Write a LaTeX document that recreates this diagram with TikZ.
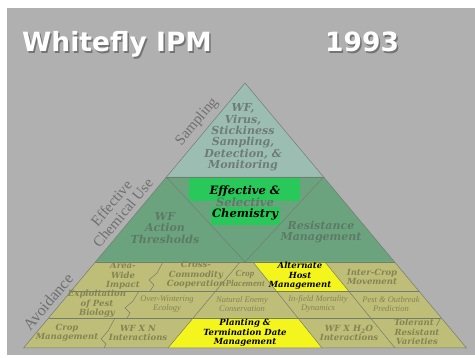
\documentclass[tikz,border=0pt]{standalone}
\usepackage{fontspec}
\setmainfont{Liberation Serif}
\newfontfamily\titlefont{DejaVu Sans}
\newfontfamily\cellfont{DejaVu Serif}
\usepackage{tikz}
\usetikzlibrary{positioning}

\definecolor{slidegray}{RGB}{176,176,176}
\definecolor{tealtop}{RGB}{156,189,178}
\definecolor{greenmid}{RGB}{108,163,127}
\definecolor{olivelow}{RGB}{190,190,120}
\definecolor{hiyellow}{RGB}{245,245,30}
\definecolor{higreen}{RGB}{40,200,90}
\definecolor{sidegray}{RGB}{112,112,112}
\definecolor{tealtext}{RGB}{110,124,119}
\definecolor{greentext}{RGB}{92,122,102}
\definecolor{olivetext}{RGB}{132,132,84}
\definecolor{linegray}{RGB}{115,125,110}

% white title text with a dark drop shadow
\newcommand{\shadowed}[1]{\rlap{\raisebox{-1.5pt}{\hspace{1.5pt}\textcolor{black!55}{#1}}}#1}

\begin{document}
\begin{tikzpicture}[
    x=1pt, y=-1pt,
    title/.style={font=\titlefont\bfseries\fontsize{26.5}{30}\selectfont, text=white, anchor=base west, inner sep=0},
    side/.style={font=\fontsize{15}{15}\selectfont, text=sidegray, rotate=50, align=center, inner sep=0},
    cell/.style={font=\cellfont\bfseries\itshape\fontsize{11}{11.4}\selectfont, align=center, inner sep=0},
    rowcell/.style={cell, font=\cellfont\bfseries\itshape\fontsize{8.5}{9.5}\selectfont, text=olivetext},
    smallcell/.style={font=\itshape\fontsize{8.5}{9}\selectfont, align=center, inner sep=0, text=olivetext},
    band/.style={draw=linegray, line width=0.5pt}
]
    \useasboundingbox (0,0) rectangle (475,358);

    % Slide background
    \fill[white] (0,0) rectangle (475,358);
    \fill[slidegray] (7,8) rectangle (475,355);

    % Title
    \node[title] (title) at (22,52) {\shadowed{Whitefly IPM}};
    \node[title] (year) at (325,52) {\shadowed{1993}};

    % Pyramid corners
    \coordinate (apex) at (245,83);
    \coordinate (bl) at (23.5,348);
    \coordinate (br) at (466.5,348);

    % Bands
    \fill[tealtop] (apex) -- (323.6,177) -- (166.4,177) -- cycle;
    \fill[greenmid] (166.4,177) -- (323.6,177) -- (394.6,262) -- (95.4,262) -- cycle;
    \fill[olivelow] (95.4,262) -- (394.6,262) -- (br) -- (bl) -- cycle;

    % Yellow cells
    \fill[hiyellow] (253,262) -- (325,262) -- (348.6,291) -- (276.3,291) -- cycle;
    \fill[hiyellow] (193.1,318) -- (298,318) -- (322,348) -- (168,348) -- cycle;

    % Highlight behind the chemistry text
    \fill[higreen] (189,178) rectangle (300,201);
    \fill[higreen] (211,207) rectangle (280,225);

    % Lines
    \draw[band] (apex) -- (br) -- (bl) -- cycle;
    \draw[band] (166.4,177) -- (323.6,177);
    \draw[band] (95.4,262) -- (394.6,262);
    \draw[band] (71.2,291) -- (418.8,291);
    \draw[band] (48.6,318) -- (441.4,318);
    \draw[band] (166.4,177) -- (245,262) -- (323.6,177);
    \draw[band] (240,262) -- (168,348);
    \draw[band] (253,262) -- (322,348);
    \draw[band] (325,262) -- (395,348);
    \draw[band] (163,262) -- (157,273) -- (149,280) -- (154,285) -- (150,291);
    \draw[band] (139,291) -- (133,301) -- (125,308) -- (130,313) -- (127,318);
    \draw[band] (115,318) -- (108,331) -- (101,339) -- (106,344) -- (104,348);

    % Side labels
    \node[side] (sampling) at (197,122) {Sampling};
    \node[side] (chemuse) at (117,208) {Effective\\Chemical Use};
    \node[side, font=\fontsize{16}{16}\selectfont] (avoid) at (48,302) {Avoidance};

    % Top band
    \node[cell, text=tealtext] (monitor) at (243,137.5)
        {WF,\\Virus,\\Stickiness\\Sampling,\\Detection, \&\\Monitoring};

    % Middle band
    \node[cell, text=greentext] (thresh) at (165,228) {WF\\Action\\Thresholds};
    \node[cell, text=greentext] (resist) at (321,232) {Resistance\\Management};
    \node[cell, font=\cellfont\bfseries\itshape\fontsize{11.5}{11.5}\selectfont] (chemistry) at (245,203)
        {Effective \&\\\textcolor{greentext}{Selective}\\Chemistry};

    % Bottom band, first row
    \node[rowcell] (areawide) at (123,276) {Area-\\Wide\\Impact};
    \node[rowcell] (crosscom) at (196,275) {Cross-\\Commodity\\Cooperation};
    \node[smallcell, font=\bfseries\itshape\fontsize{9}{10}\selectfont] (cropplace) at (245,279) {Crop\\Placement};
    \node[rowcell, text=black] (althost) at (300,276) {Alternate\\Host\\Management};
    \node[rowcell] (intercrop) at (372,277) {Inter-Crop\\Movement};

    % Bottom band, second row
    \node[rowcell] (exploit) at (97,304) {Exploitation\\of Pest\\Biology};
    \node[smallcell] (overwinter) at (167,304) {Over-Wintering\\Ecology};
    \node[smallcell] (natenemy) at (242,304) {Natural Enemy\\Conservation};
    \node[smallcell] (infield) at (318,304) {In-field Mortality\\Dynamics};
    \node[smallcell] (outbreak) at (391,304) {Pest \& Outbreak\\Prediction};

    % Bottom band, third row
    \node[rowcell] (cropmgmt) at (67,333) {Crop\\Management};
    \node[rowcell] (wfxn) at (138,333) {WF X N\\Interactions};
    \node[rowcell, text=black] (planting) at (245,333) {Planting \&\\Termination Date\\Management};
    \node[rowcell] (wfxh) at (349,333) {WF X H\textsubscript{2}O\\Interactions};
    \node[rowcell] (tolerant) at (417,332) {Tolerant /\\Resistant\\Varieties};
\end{tikzpicture}
\end{document}
